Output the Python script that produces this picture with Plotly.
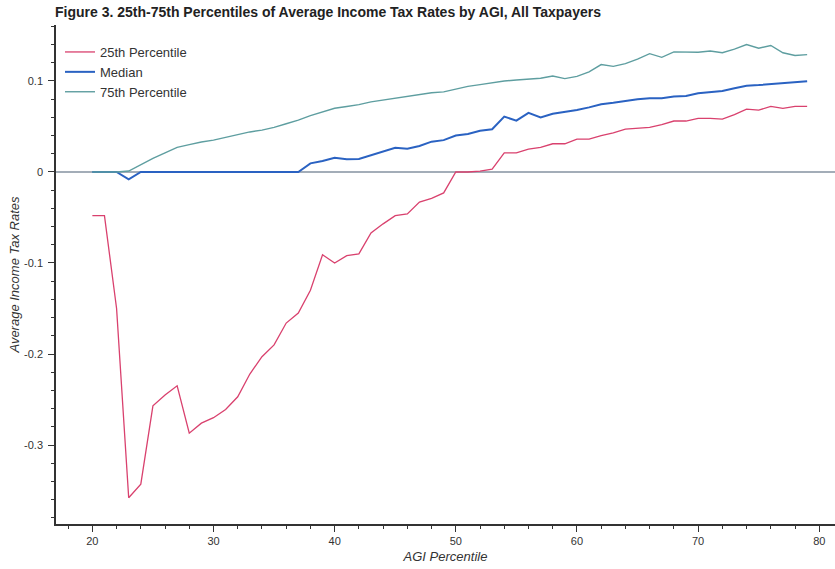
import plotly.graph_objects as go

# AGI percentile (x axis)
agi_pct = list(range(20, 80))

# Average income tax rates at each AGI percentile
p25 = [-0.048, -0.048, -0.150, -0.358, -0.343, -0.257, -0.245, -0.235, -0.287, -0.276,
       -0.270, -0.261, -0.247, -0.222, -0.203, -0.190, -0.166, -0.155, -0.130, -0.091,
       -0.100, -0.092, -0.090, -0.067, -0.057, -0.048, -0.046, -0.033, -0.029, -0.023,
       0.000, 0.000, 0.001, 0.003, 0.021, 0.021, 0.025, 0.027, 0.031, 0.031,
       0.036, 0.036, 0.040, 0.043, 0.047, 0.048, 0.049, 0.052, 0.056, 0.056,
       0.059, 0.059, 0.058, 0.063, 0.069, 0.068, 0.072, 0.070, 0.072, 0.072]

median = [0.000, 0.000, 0.000, -0.008, 0.000, 0.000, 0.000, 0.000, 0.000, 0.000,
          0.000, 0.000, 0.000, 0.000, 0.000, 0.000, 0.000, 0.000, 0.0095, 0.012,
          0.0157, 0.014, 0.0143, 0.0187, 0.023, 0.0267, 0.0256, 0.0286, 0.0333, 0.035,
          0.040, 0.0418, 0.0454, 0.047, 0.0608, 0.0564, 0.065, 0.060, 0.064, 0.0656,
          0.068, 0.071, 0.0744, 0.076, 0.078, 0.080, 0.081, 0.081, 0.083, 0.0835,
          0.0865, 0.088, 0.089, 0.092, 0.0948, 0.0955, 0.0967, 0.098, 0.099, 0.0997]

p75 = [0.000, 0.000, 0.000, 0.001, 0.008, 0.015, 0.021, 0.027, 0.030, 0.033,
       0.035, 0.038, 0.041, 0.044, 0.046, 0.049, 0.053, 0.057, 0.062, 0.066,
       0.070, 0.072, 0.074, 0.077, 0.079, 0.081, 0.083, 0.085, 0.087, 0.088,
       0.091, 0.094, 0.096, 0.098, 0.100, 0.101, 0.102, 0.103, 0.1055, 0.1026,
       0.105, 0.110, 0.118, 0.116, 0.119, 0.124, 0.130, 0.126, 0.132, 0.132,
       0.1315, 0.133, 0.131, 0.135, 0.140, 0.136, 0.139, 0.131, 0.128, 0.129]

series_names = ["25th Percentile", "Median", "75th Percentile"]

# Axis tick positions and their printed labels
y_tick_vals = [-0.3, -0.2, -0.1, 0.0, 0.1]
y_tick_text = ["-0.3", "-0.2", "-0.1", "0", "0.1"]
x_tick_vals = [20, 30, 40, 50, 60, 70, 80]

FONT = "Arial, Liberation Sans, sans-serif"
TEXT = "#333333"

fig = go.Figure()
fig.add_trace(go.Scatter(x=agi_pct, y=p25, mode="lines", name=series_names[0],
                         line=dict(color="#d9416e", width=1.3)))
fig.add_trace(go.Scatter(x=agi_pct, y=median, mode="lines", name=series_names[1],
                         line=dict(color="#2a62c2", width=2)))
fig.add_trace(go.Scatter(x=agi_pct, y=p75, mode="lines", name=series_names[2],
                         line=dict(color="#5e9ea0", width=1.4)))

tick_font = dict(family=FONT, size=11, color=TEXT)
label_font = dict(family=FONT, size=13, color=TEXT)

fig.update_layout(
    width=835, height=569,
    margin=dict(l=56, r=0, t=25, b=45, autoexpand=False),
    paper_bgcolor="white", plot_bgcolor="white",
    title=dict(text="<b>Figure 3. 25th-75th Percentiles of Average Income Tax Rates by AGI, All Taxpayers</b>",
               x=55 / 835, xanchor="left", xref="container", y=1 - 12 / 569, yanchor="middle",
               yref="container",
               font=dict(family=FONT, size=14, color="#222222")),
    showlegend=True,
    legend=dict(x=4 / 779, y=1 - 12 / 499, xanchor="left", yanchor="top",
                bgcolor="rgba(0,0,0,0)", itemwidth=30,
                font=label_font),
    font=tick_font,
)

fig.update_xaxes(
    range=[17, 81.3], tickmode="array", tickvals=x_tick_vals,
    ticks="outside", ticklen=6, tickcolor=TEXT,
    showline=True, linecolor=TEXT, linewidth=1.5, showgrid=False, zeroline=False,
    minor=dict(tick0=0, dtick=2, ticks="outside", ticklen=3, tickcolor=TEXT),
    tickfont=tick_font,
    title=dict(text="<i>AGI Percentile</i>", standoff=6, font=label_font),
)
fig.update_yaxes(
    range=[-0.3868, 0.1615], tickmode="array", tickvals=y_tick_vals, ticktext=y_tick_text,
    ticks="outside", ticklen=6, tickcolor=TEXT,
    showline=True, linecolor=TEXT, linewidth=1.5, showgrid=False,
    zeroline=True, zerolinecolor="#a3adb8", zerolinewidth=2,
    minor=dict(tick0=0, dtick=0.02, ticks="outside", ticklen=3, tickcolor=TEXT),
    tickfont=tick_font, ticklabelstandoff=3,
    title=dict(text="<i>Average Income Tax Rates</i>", standoff=2, font=label_font),
)

fig.write_html("out.html")
